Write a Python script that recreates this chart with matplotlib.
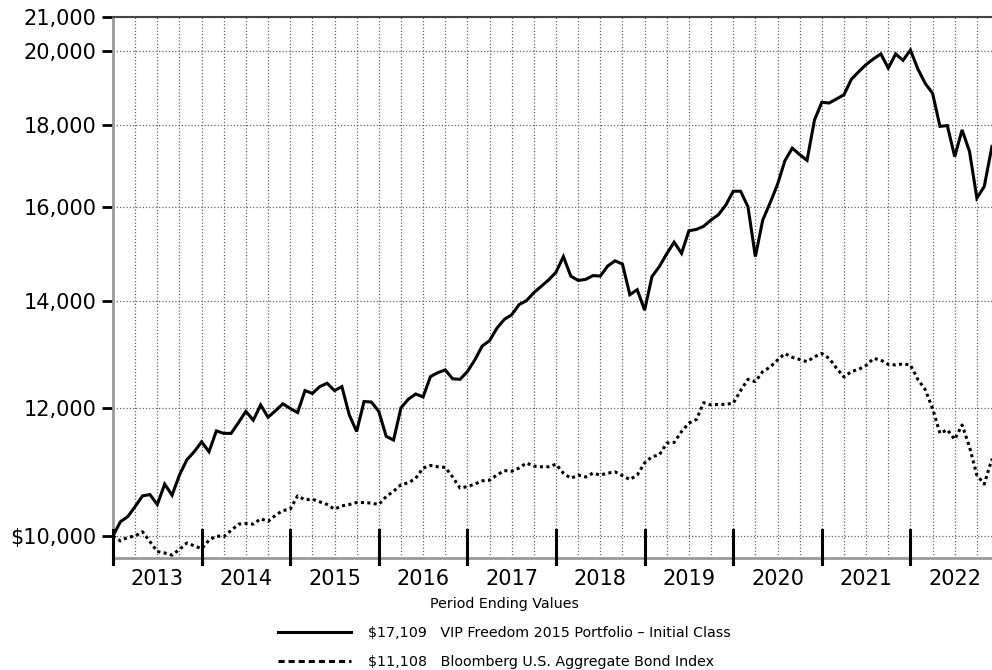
# Growth of $10,000 chart - VIP Freedom 2015 vs Bloomberg U.S. Aggregate Bond Index
import numpy as np
import matplotlib
matplotlib.use("Agg")
import matplotlib.pyplot as plt
from matplotlib.lines import Line2D

#---------------------------
#   DATA (monthly, Dec 2012 = month 0)
#---------------------------
fund = [10000, 10206, 10280, 10430, 10590, 10610, 10460, 10770, 10600, 10910,
        11150, 11280, 11440, 11280, 11620, 11580, 11580, 11760, 11950, 11800,
        12060, 11850, 11960, 12080, 12000, 11930, 12310, 12260, 12380, 12440,
        12310, 12380, 11890, 11610, 12120, 12110, 11950, 11530, 11470, 12010,
        12160, 12250, 12200, 12560, 12630, 12680, 12520, 12510, 12650, 12860,
        13120, 13220, 13460, 13630, 13720, 13920, 14000, 14160, 14290, 14420,
        14580, 14910, 14500, 14410, 14430, 14510, 14500, 14710, 14820, 14750,
        14120, 14220, 13810, 14490, 14700, 14970, 15220, 14980, 15470, 15500,
        15570, 15710, 15830, 16050, 16370, 16370, 16010, 14910, 15710, 16100,
        16530, 17100, 17410, 17250, 17110, 18120, 18590, 18570, 18680, 18790,
        19210, 19420, 19620, 19780, 19920, 19520, 19920, 19740, 20030, 19500,
        19100, 18830, 17960, 17980, 17200, 17870, 17330, 16210, 16480, 17410,
        17109]

bond = [10000, 9930, 9980, 10000, 10060, 9920, 9780, 9760, 9730, 9810,
        9900, 9860, 9820, 9940, 10000, 9990, 10080, 10170, 10180, 10170,
        10250, 10210, 10300, 10370, 10390, 10590, 10530, 10540, 10500, 10460,
        10390, 10440, 10460, 10490, 10490, 10480, 10460, 10580, 10660, 10760,
        10790, 10860, 11020, 11060, 11040, 11030, 10880, 10710, 10730, 10770,
        10820, 10830, 10910, 10980, 10970, 11020, 11100, 11050, 11040, 11040,
        11080, 10940, 10860, 10910, 10880, 10940, 10910, 10940, 10960, 10900,
        10840, 10910, 11100, 11200, 11230, 11420, 11430, 11610, 11750, 11810,
        12100, 12060, 12070, 12070, 12090, 12310, 12510, 12470, 12650, 12730,
        12860, 12980, 12910, 12870, 12830, 12920, 12980, 12890, 12710, 12550,
        12650, 12690, 12760, 12890, 12860, 12780, 12770, 12790, 12770, 12510,
        12330, 12000, 11580, 11640, 11480, 11720, 11360, 10910, 10770, 11150,
        11108]

years = ['2013', '2014', '2015', '2016', '2017', '2018', '2019', '2020', '2021', '2022']
yticks = [10000, 12000, 14000, 16000, 18000, 20000, 21000]
ylabels = ['$10,000', '12,000', '14,000', '16,000', '18,000', '20,000', '21,000']

fund_label = '\\$17,109   VIP Freedom 2015 Portfolio \u2013 Initial Class'
bond_label = '\\$11,108   Bloomberg U.S. Aggregate Bond Index'
legend_title = 'Period Ending Values'

#---------------------------
#   FIGURE
#---------------------------
plt.rcParams['font.family'] = ['DejaVu Sans']
fig = plt.figure(figsize=(9.92, 6.70), dpi=100)
ax = fig.add_axes([113/992, 1-558/670, (992-113)/992, (558-17)/670])

months = np.arange(len(fund))
ax.plot(months, fund, '-k', linewidth=2.2, solid_joinstyle='miter')
ax.plot(months, bond, color='k', linewidth=2.2,
        linestyle=(0, (1.0, 1.1)), dash_capstyle='butt')

ax.set_yscale('log')
ax.set_ylim(9690, 21000)
ax.set_xlim(0, 119.05)

# y axis
ax.yaxis.set_minor_locator(matplotlib.ticker.NullLocator())
ax.set_yticks(yticks)
ax.set_yticklabels(ylabels)
ax.tick_params(axis='y', which='major', length=8, width=2, color='k',
               labelsize=15, pad=4)

# x axis : quarterly grid, year labels in the middle of each year
ax.set_xticks(np.arange(3, 119, 3))
ax.set_xticklabels([])
ax.tick_params(axis='x', which='both', length=0)
for i, yr in enumerate(years):
    ax.text(6 + 12*i, -0.02, yr, transform=ax.get_xaxis_transform(),
            ha='center', va='top', fontsize=15)

ax.grid(True, which='major', axis='both', color='#666666',
        linestyle=(0, (1, 1.6)), linewidth=0.9)
ax.set_axisbelow(True)

# year boundary marks
for m in range(0, 120, 12):
    ax.axvline(m, ymin=-6/541, ymax=28/541, color='k', linewidth=2.2,
               clip_on=False, zorder=5)

# spines
ax.spines['right'].set_visible(False)
ax.spines['left'].set_color('#999999')
ax.spines['left'].set_linewidth(2)
ax.spines['bottom'].set_color('#999999')
ax.spines['bottom'].set_linewidth(2)
ax.spines['top'].set_color('#444444')
ax.spines['top'].set_linewidth(1.5)

# legend
handles = [Line2D([], [], color='k', linewidth=2.2),
           Line2D([], [], color='k', linewidth=2.2, linestyle=(0, (2.0, 1.3)))]
leg = fig.legend(handles, [fund_label, bond_label], title=legend_title,
                 loc='upper center', bbox_to_anchor=(504/992, 1-597/670),
                 frameon=False, fontsize=10.3, title_fontsize=10.3,
                 handlelength=5.1, handletextpad=1.2, labelspacing=1.05,
                 borderaxespad=0, borderpad=0)

plt.savefig('out.png', dpi=100)
